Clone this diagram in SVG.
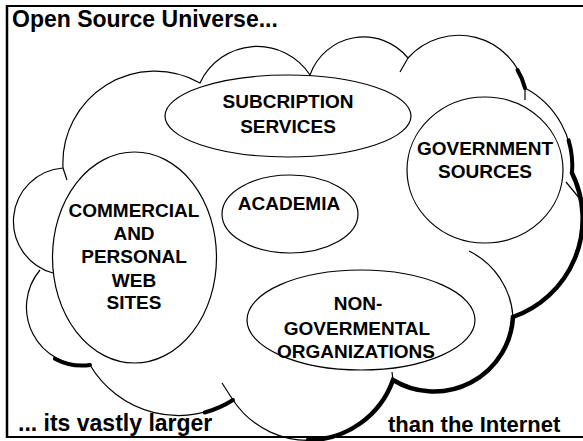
<svg xmlns="http://www.w3.org/2000/svg" width="583" height="441" viewBox="0 0 583 441">
<style>
.t{font-family:"Liberation Sans",Arial,sans-serif;font-weight:bold;fill:#000}
.big{font-size:23px}
.n{font-size:19px;text-anchor:middle}
.thin{fill:none;stroke:#000;stroke-width:1.2}
.thick{fill:none;stroke:#000;stroke-width:4;stroke-linecap:round}
.node{fill:none;stroke:#000;stroke-width:1.2}
</style>
<rect x="0" y="0" width="583" height="441" fill="#fff"/>
<g id="frame">
<line x1="7" y1="6" x2="583" y2="6" stroke="#000" stroke-width="2"/>
<line x1="7" y1="5" x2="7" y2="438" stroke="#000" stroke-width="2.5"/>
<line x1="6" y1="437" x2="583" y2="437" stroke="#000" stroke-width="2"/>
</g>
<g id="cloud">
<path class="thin" d="M53 273 A53.5 53.5 0 0 1 63 168 A92 92 0 0 1 200 83 A63 63 0 0 1 310 75 A57 57 0 0 1 408 58 A68 68 0 0 1 525 88 A89 89 0 0 1 572 173 A104 104 0 0 1 513 317 A79 79 0 0 1 393 380 A90 90 0 0 1 233 400 A103 103 0 0 1 90 365 A58 58 0 0 1 40 270"/>
<path class="thin" d="M63 168 L67 180 M408 58 L400 72 M525 88 L525 100 M393 380 L392 372 M233 400 L222 383 M566 182 L580 199"/>
<path class="thin" d="M513 317 A79 79 0 0 0 469 251"/>
<path class="thick" d="M517.5 70 A68 68 0 0 1 525 88"/>
<path class="thick" d="M568.6 140.4 A89 89 0 0 1 572 173"/>
<path class="thick" style="stroke-width:4.5" d="M572 173 A104 104 0 0 1 513 317 A79 79 0 0 1 393 380 A90 90 0 0 1 308 440"/>
<path class="thick" d="M233 400 A103 103 0 0 1 204.7 412.5"/>
<path class="thick" d="M90 365 A58 58 0 0 1 54.9 358.7"/>
</g>
<g id="subscription">
<ellipse class="node" cx="288" cy="116" rx="123" ry="41"/>
<text class="t n" x="288" y="108">SUBCRIPTION</text>
<text class="t n" x="288" y="133">SERVICES</text>
</g>
<g id="government">
<ellipse class="node" cx="485" cy="170" rx="78" ry="73"/>
<text class="t n" x="485" y="155">GOVERNMENT</text>
<text class="t n" x="485" y="178">SOURCES</text>
</g>
<g id="academia">
<ellipse class="node" cx="290" cy="214" rx="68" ry="39"/>
<text class="t n" x="289" y="210">ACADEMIA</text>
</g>
<g id="commercial">
<ellipse class="node" cx="134.5" cy="257.5" rx="82" ry="105.5"/>
<text class="t n" x="134" y="217">COMMERCIAL</text>
<text class="t n" x="134" y="240">AND</text>
<text class="t n" x="134" y="263">PERSONAL</text>
<text class="t n" x="134" y="287">WEB</text>
<text class="t n" x="134" y="309">SITES</text>
</g>
<g id="ngo">
<ellipse class="node" cx="361" cy="320" rx="114" ry="50"/>
<text class="t n" x="358" y="310">NON-</text>
<text class="t n" x="357" y="335">GOVERMENTAL</text>
<text class="t n" x="356" y="358">ORGANIZATIONS</text>
</g>
<g id="labels">
<text class="t big" x="12" y="27">Open Source Universe...</text>
<text class="t big" x="18" y="431">... its vastly larger</text>
<text class="t big" x="388" y="432" style="font-size:22px">than the Internet</text>
</g>
</svg>
